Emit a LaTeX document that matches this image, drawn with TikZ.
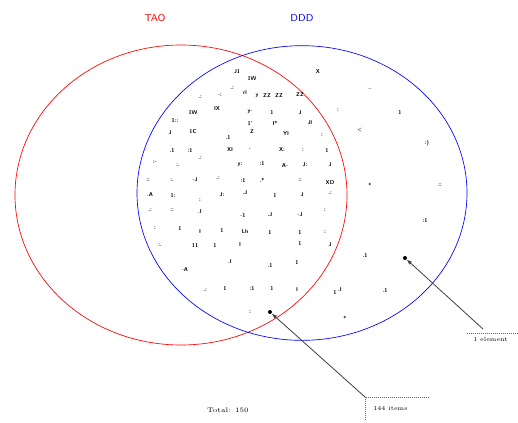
\documentclass[tikz,border=0pt]{standalone}
\usetikzlibrary{arrows.meta}
\begin{document}
\begin{tikzpicture}[x=0.75pt,y=-0.75pt,
  lbl/.style={inner sep=0pt,font=\fontsize{4.2}{5}\selectfont\sffamily\bfseries},
  setred/.style={draw=red,line width=0.5pt},
  setblue/.style={draw=blue,line width=0.5pt},
  title/.style={inner sep=0pt,font=\fontsize{7.5}{9}\selectfont\sffamily},
  pointer/.style={draw=black!75,line width=0.6pt,-{Latex[length=4pt,width=3pt]}},
  annline/.style={draw=magenta!80!black,densely dotted,line width=0.5pt},
  dotmark/.style={circle,fill=black,inner sep=0pt,minimum size=3pt}]
\useasboundingbox (0,0) rectangle (518,422);
\fill[white] (0,0) rectangle (518,422);
% sets
\draw[setred] (181,195) ellipse [x radius=124.5pt, y radius=112.5pt];
\draw[setblue] (302,193) ellipse [x radius=123.75pt, y radius=110.5pt];
\node[title,text=red] (tA) at (155,18) {TAO};
\node[title,text=blue] (tB) at (302,18) {DDD};
% element labels
\foreach \px/\py/\t [count=\i] in {
 237/72/J1,252/78/1W,
 232/88/.:,245/93/rl,267/96/ZZ,
 200/97/.:,220/95/-:,257/96/y,279/96/ZZ,300/95/ZZ,
 193/112/1W,217/109/IX,250/112/y-,272/112/1/,300/113/J/,
 175/120/1::,250/123/1',275/123/I*,310/123/Jl,338/110/:,
 170/133/J,193/132/1C,228/137/.1,252/132/Z,286/134/YI,322/135/:,
 172/150/.1,190/150/:1,230/150/XI,250/150/-,282/150/X:,303/150/:,327/150/1,
 155/162/:-,178/165/:.,200/158/.:,240/165/y:,262/163/:1,285/166/A-,305/165/J:,330/165/J,
 148/180/::,172/180/:.,195/180/-J,218/178/.:,243/180/:1,262/180/.*,300/180/::,330/183/XD,
 150/195/.A,173/195/1:,200/200/:,222/195/J:,245/193/.J,275/195/1,302/195/J,330/193/.:,
 150/210/.:,172/210/::,200/212/.I,243/215/-1,270/215/.J,300/215/-J,325/210/:,
 155/228/:,180/228/1,200/232/I,222/230/1,245/232/Lh,270/232/1,300/232/1,325/232/:,
 160/245/:.,195/245/11,215/245/1,240/245/I,300/243/1,330/245/J,
 185/270/-A,230/262/.I,270/265/.1,297/262/1,
 205/290/.:,225/288/1,252/288/:1,272/288/1,297/290/I,335/292/1,
 250/312/:,
 318/72/X,370/90/\textasciitilde,400/112/1,360/130/\textless,427/143/:),
 370/185/*,440/185/::,425/220/:1,365/255/.1,340/290/.I,385/290/.1,345/318/*}
 {\node[lbl] (e\i) at (\px,\py) {\t};}
% highlighted elements
\node[dotmark] (d1) at (405,258) {};
\node[dotmark] (d2) at (270,312) {};
% annotations
\node[lbl,font=\fontsize{4.5}{5}\selectfont,anchor=north west] (a1) at (473,337) {1 element};
\coordinate (a1c) at (467,333);
\draw[annline] (a1c) -- (518,333);
\coordinate (a1p) at (483,329);
\draw[pointer] (a1p) -- (d1);
\node[lbl,font=\fontsize{4.5}{5}\selectfont,anchor=west] (a2) at (373,408) {144 items};
\coordinate (a2c) at (365,397);
\draw[annline] (365,420) -- (a2c) -- (430,397);
\draw[pointer] (a2c) -- (d2);
\node[lbl,font=\fontsize{5}{6}\selectfont] (tot) at (228,410) {Total: 150};
\end{tikzpicture}
\end{document}
